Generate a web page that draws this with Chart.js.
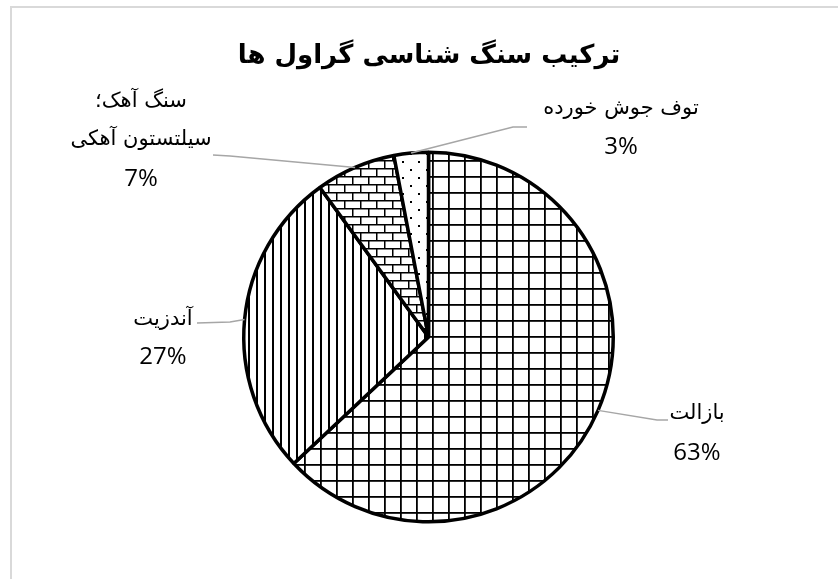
<!DOCTYPE html>
<html>
<head>
<meta charset="utf-8">
<script src="https://cdn.jsdelivr.net/npm/chart.js@4.4.1/dist/chart.umd.min.js"></script>
<style>
  html, body { margin: 0; padding: 0; background: #ffffff; }
  #wrap { position: relative; width: 838px; height: 579px; }
</style>
</head>
<body>
<div id="wrap"><canvas id="c" width="838" height="579"></canvas></div>
<script>
// ---- data ----
const chartTitle = "ترکیب سنگ شناسی گراول ها";
const categories = ["بازالت", "آندزیت", "سنگ آهک؛ سیلتستون آهکی", "توف جوش خورده"];
const labelLines = [["بازالت"], ["آندزیت"], ["سنگ آهک؛", "سیلتستون آهکی"], ["توف جوش خورده"]];
const percentValues = [63, 27, 7, 3];
const percentLabels = ["63%", "27%", "7%", "3%"];

// ---- patterns ----
function makePattern(size, draw) {
  const c = document.createElement('canvas');
  c.width = size; c.height = size;
  const g = c.getContext('2d');
  g.fillStyle = '#ffffff';
  g.fillRect(0, 0, size, size);
  g.fillStyle = '#000000';
  draw(g, size);
  return document.getElementById('c').getContext('2d').createPattern(c, 'repeat');
}
const gridPattern = makePattern(16, (g, s) => { g.fillRect(0, 0, 1.8, s); g.fillRect(0, 0, s, 1.8); });
const vlinePattern = makePattern(8, (g, s) => { g.fillRect(0, 0, 2, s); });
const brickPattern = makePattern(16, (g, s) => {
  g.fillRect(0, 0, s, 1.5); g.fillRect(0, 8, s, 1.5);
  g.fillRect(0, 0, 1.5, 8); g.fillRect(8, 8, 1.5, 8);
});
const dotPattern = makePattern(16, (g, s) => { g.fillRect(2, 1, 2, 2); g.fillRect(10, 9, 2, 2); });

// ---- label layout (positions of text, not of marks) ----
const labelStyle = [
  { cx: 697, ys: [414, 453], path: [[657, 420], [668, 420]] },
  { cx: 163, ys: [320, 357], path: [[230, 322], [197, 323]] },
  { cx: 141, ys: [102, 140, 179], path: [[230, 156], [213, 155]] },
  { cx: 621, ys: [109, 147], path: [[513, 127], [527, 127]] }
];
const arabicFont = '21px "DejaVu Sans", sans-serif';
const numberFont = '24px "Open Sans", "DejaVu Sans", sans-serif';

const labelsPlugin = {
  id: 'outerLabels',
  afterDatasetsDraw(chart) {
    const ctx = chart.ctx;
    const meta = chart.getDatasetMeta(0);
    ctx.save();
    // frame
    ctx.strokeStyle = '#d9d9d9';
    ctx.lineWidth = 2;
    ctx.beginPath();
    ctx.moveTo(11, 600); ctx.lineTo(11, 7); ctx.lineTo(860, 7);
    ctx.stroke();
    // title
    ctx.fillStyle = '#000';
    ctx.direction = 'rtl';
    ctx.textAlign = 'center';
    ctx.textBaseline = 'middle';
    ctx.font = 'bold 26px "DejaVu Sans", sans-serif';
    ctx.fillText(chartTitle, 429, 56);

    meta.data.forEach((arc, i) => {
      const mid = (arc.startAngle + arc.endAngle) / 2;
      const px = arc.x + Math.cos(mid) * arc.outerRadius;
      const py = arc.y + Math.sin(mid) * arc.outerRadius;
      const st = labelStyle[i];
      ctx.strokeStyle = '#a6a6a6';
      ctx.lineWidth = 1.5;
      ctx.beginPath();
      ctx.moveTo(px, py);
      st.path.forEach(p => ctx.lineTo(p[0], p[1]));
      ctx.stroke();

      const lines = labelLines[i].concat([percentLabels[i]]);
      lines.forEach((t, k) => {
        const isNum = k === lines.length - 1;
        ctx.font = isNum ? numberFont : arabicFont;
        ctx.direction = isNum ? 'ltr' : 'rtl';
        ctx.fillStyle = '#000';
        ctx.fillText(t, st.cx, st.ys[k]);
      });
    });
    ctx.restore();
  }
};

new Chart(document.getElementById('c'), {
  type: 'pie',
  data: {
    labels: categories,
    datasets: [{
      data: percentValues,
      backgroundColor: [gridPattern, vlinePattern, brickPattern, dotPattern],
      borderColor: '#000000',
      borderWidth: 3.5
    }]
  },
  options: {
    responsive: false,
    animation: false,
    events: [],
    layout: { padding: { left: 242, top: 150.5, right: 223, bottom: 55.5 } },
    plugins: { legend: { display: false }, tooltip: { enabled: false }, title: { display: false } }
  },
  plugins: [labelsPlugin]
});
</script>
</body>
</html>
